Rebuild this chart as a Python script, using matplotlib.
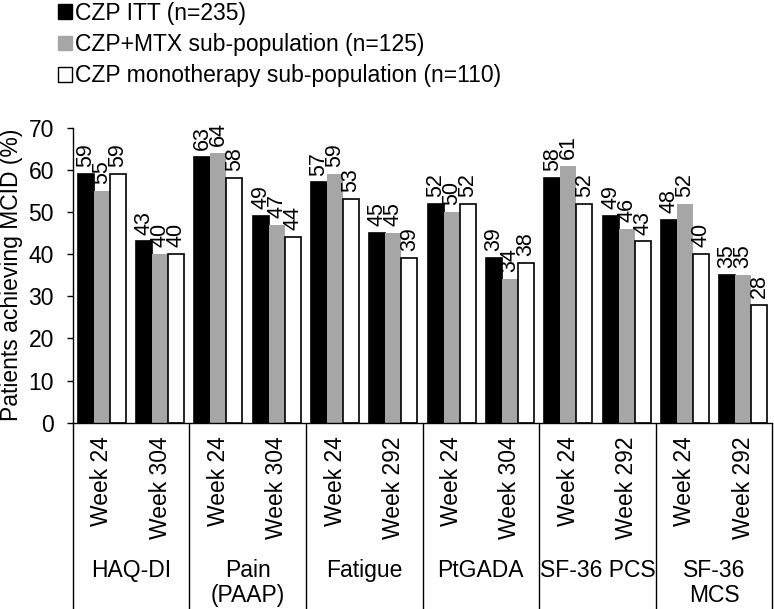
import numpy as np
import matplotlib.pyplot as plt
from matplotlib.patches import Patch

plt.rcParams['font.family'] = ['Liberation Sans', 'DejaVu Sans']

groups = ["HAQ-DI", "Pain\n(PAAP)", "Fatigue", "PtGADA", "SF-36 PCS", "SF-36\nMCS"]
weeks = ["Week 24", "Week 304", "Week 24", "Week 304", "Week 24", "Week 292",
         "Week 24", "Week 304", "Week 24", "Week 292", "Week 24", "Week 292"]

itt = [59, 43, 63, 49, 57, 45, 52, 39, 58, 49, 48, 35]
mtx = [55, 40, 64, 47, 59, 45, 50, 34, 61, 46, 52, 35]
mono = [59, 40, 58, 44, 53, 39, 52, 38, 52, 43, 40, 28]

series = [
    ("CZP ITT (n=235)", itt, "black", "black"),
    ("CZP+MTX sub-population (n=125)", mtx, "#a6a6a6", "none"),
    ("CZP monotherapy sub-population (n=110)", mono, "white", "black"),
]

fig = plt.figure(figsize=(7.74, 6.09), dpi=100)
ax = fig.add_axes([72.7 / 774, 1 - 422.7 / 609, 699.6 / 774, 295 / 609])

x = np.arange(len(weeks))
w = 0.274
handles = []
for i, (name, vals, fc, ec) in enumerate(series):
    pos = x + (i - 1) * w
    ax.bar(pos, vals, width=w, color=fc, edgecolor=ec, linewidth=1.2)
    for xi, v in zip(pos, vals):
        ax.annotate(f"{v:.0f}", (xi, v), xytext=(0, 5), textcoords="offset points",
                    rotation=90, ha="center", va="bottom", fontsize=15.5)
    handles.append(Patch(facecolor=fc, edgecolor="black" if fc != "#a6a6a6" else fc,
                         linewidth=1.0, label=name))

ax.set_xlim(-0.5, len(weeks) - 0.5)
ax.set_ylim(0, 70)
ax.set_yticks(range(0, 71, 10))
ax.tick_params(axis="y", labelsize=16.5, length=4.5, width=1, pad=9)
ax.set_ylabel("Patients achieving MCID (%)", fontsize=16.5, labelpad=4)

# long group separators below the axis
bounds = np.arange(-0.5, len(weeks), 2)
ax.set_xticks(bounds)
ax.set_xticklabels([""] * len(bounds))
ax.tick_params(axis="x", which="major", length=140, width=1, direction="out")
ax.set_xticks(x, minor=True)
ax.set_xticklabels(weeks, minor=True, rotation=90, fontsize=16.5)
ax.tick_params(axis="x", which="minor", length=0, pad=10)

for j, g in enumerate(groups):
    ax.annotate(g, (2 * j + 0.5, 0), xycoords=ax.get_xaxis_transform(),
                xytext=(0, -98), textcoords="offset points",
                ha="center", va="top", fontsize=16.5, linespacing=1.12)

for s in ["top", "right"]:
    ax.spines[s].set_visible(False)
ax.spines["left"].set_linewidth(1)
ax.spines["bottom"].set_linewidth(1)

fig.legend(handles=handles, loc="upper left", bbox_to_anchor=(58 / 774, 0.997),
           frameon=False, fontsize=16.5, handlelength=0.6, handleheight=0.6,
           handletextpad=0.15, labelspacing=0.36, borderpad=0, borderaxespad=0)

plt.savefig("out.png", dpi=100)
plt.close()
